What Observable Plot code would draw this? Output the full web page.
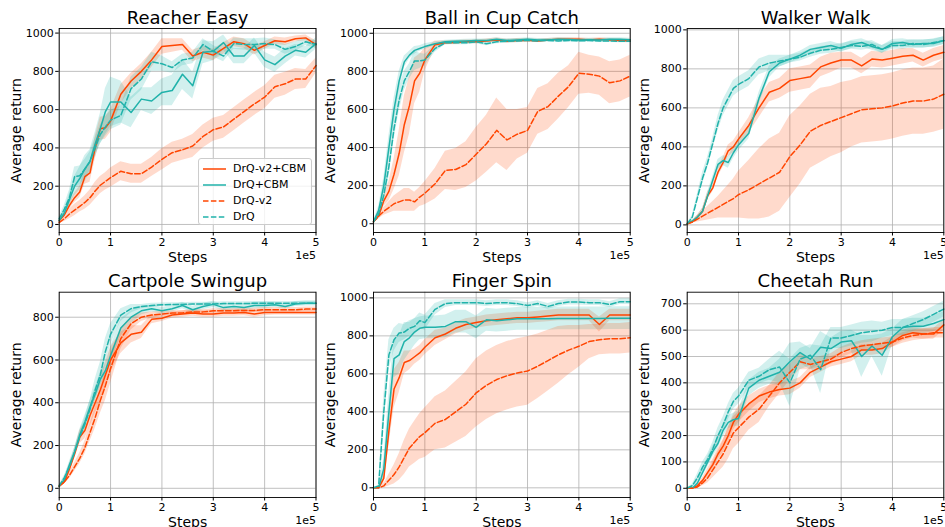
<!DOCTYPE html>
<html><head><meta charset="utf-8">
<script src="https://cdn.jsdelivr.net/npm/d3@7"></script>
<script src="https://cdn.jsdelivr.net/npm/@observablehq/plot@0.6"></script>
<style>
body{margin:0;background:#fff;font-family:"DejaVu Sans",sans-serif;}
#root{position:relative;width:945px;height:527px;overflow:hidden;background:#fff;}
.panel{position:absolute;}
#legend{position:absolute;left:198px;top:158px;width:114px;height:67px;background:rgba(255,255,255,0.8);border:1px solid #cccccc;border-radius:3px;box-sizing:border-box;font-family:"DejaVu Sans",sans-serif;font-size:11px;color:#000;}
.lg{position:absolute;left:0;height:16px;line-height:16px;width:112px;}
.lg svg{position:absolute;left:4px;top:0;}
.lg span{position:absolute;left:34px;top:0;white-space:nowrap;}
</style></head><body><div id="root"></div>
<script>
// ---- data ----
const stepsE5 = [0,0.1,0.2,0.3,0.4,0.5,0.6,0.7,0.8,0.9,1.0,1.2,1.4,1.6,1.8,2.0,2.2,2.4,2.6,2.8,3.0,3.2,3.4,3.6,3.8,4.0,4.2,4.4,4.6,4.8,5.0];
const seriesNames = ["DrQ-v2+CBM","DrQ+CBM","DrQ-v2","DrQ"];
const panelTitles = ["Reacher Easy","Ball in Cup Catch","Walker Walk","Cartpole Swingup","Finger Spin","Cheetah Run"];
const xTicksE5 = [0,1,2,3,4,5];
const xOffsetLabel = "1e5";
const xLabel = "Steps";
const yLabel = "Average return";
const yTicks1000 = [0,200,400,600,800,1000];
const yTicksCartpole = [0,200,400,600,800];
const yTicksCheetah = [0,100,200,300,400,500,600,700];

// Reacher Easy
const reacher_v2cbm = [20,50,100,140,170,250,270,400,500,505,540,680,750,800,860,930,935,940,880,900,885,920,955,945,910,935,960,955,970,975,940];
const reacher_cbm   = [20,60,130,200,240,290,330,420,500,590,640,640,585,655,645,690,700,785,725,900,905,950,880,880,935,860,835,880,910,900,945];
const reacher_v2    = [10,30,55,75,95,115,140,175,205,225,245,278,265,265,300,340,375,390,410,460,495,510,550,590,630,665,720,735,760,760,830];
const reacher_drq   = [30,80,140,250,255,290,330,400,470,510,545,570,710,760,850,840,820,860,870,940,905,880,945,940,940,945,940,915,930,955,940];
const reacher_v2cbm_sd = [5,10,20,25,30,40,50,60,60,60,60,50,40,40,40,40,35,30,30,30,30,30,25,25,25,20,20,20,15,15,20];
const reacher_cbm_sd   = [5,15,30,50,60,70,60,60,80,120,130,110,80,60,70,70,80,80,70,60,50,40,40,40,40,40,40,40,30,30,30];
const reacher_v2_sd    = [5,15,25,30,30,35,40,45,45,45,50,50,50,50,50,55,55,55,60,60,60,60,60,60,60,60,60,60,55,50,40];
const reacher_drq_sd   = [10,20,40,50,50,50,50,50,50,50,50,50,60,60,50,40,30,30,30,30,30,30,30,30,30,30,25,25,25,20,20];

// Ball in Cup Catch
const ball_v2cbm = [10,40,120,170,260,370,520,620,750,790,860,940,950,952,955,955,960,965,958,962,963,960,965,968,968,968,965,968,965,962,960];
const ball_cbm   = [10,70,200,400,600,750,850,885,910,920,930,945,955,958,960,962,962,968,962,965,968,965,965,968,967,965,966,965,968,968,966];
const ball_v2    = [10,40,65,85,105,115,125,125,115,140,160,210,280,285,310,365,420,490,440,470,490,590,615,670,720,790,785,775,740,750,775];
const ball_drq   = [10,50,150,300,500,650,750,800,855,855,860,920,950,950,950,955,945,955,958,960,962,960,962,960,962,960,962,960,960,958,958];
const ball_v2cbm_sd = [5,10,30,50,80,120,150,150,120,100,60,20,10,10,10,10,10,10,10,10,8,8,8,8,8,8,8,8,8,8,8];
const ball_cbm_sd   = [5,20,40,60,60,50,30,20,20,15,15,10,8,8,8,8,8,8,8,8,8,8,8,8,8,8,8,8,8,8,8];
const ball_v2_sd    = [5,15,20,30,40,50,60,60,50,50,60,80,100,110,120,140,150,170,160,130,120,120,120,120,110,110,100,100,110,110,110];
const ball_drq_sd   = [5,20,40,60,60,60,50,40,50,40,30,20,10,10,10,10,10,10,10,10,8,8,8,8,8,8,8,8,8,8,8];

// Walker Walk
const walker_v2cbm = [5,15,40,70,150,190,270,320,380,400,440,510,600,680,700,740,750,760,810,830,845,845,815,850,845,855,865,870,845,870,885];
const walker_cbm   = [5,20,40,70,150,230,310,330,320,370,410,470,650,785,830,850,870,900,910,920,905,925,935,915,900,930,935,925,930,930,945];
const walker_v2    = [5,15,30,45,60,75,90,105,120,135,155,180,210,240,270,350,410,480,510,530,550,570,590,595,600,610,625,635,635,645,670];
const walker_drq   = [5,40,140,240,320,420,520,600,650,700,720,750,810,830,840,850,860,880,895,900,910,920,915,925,900,920,920,930,925,935,945];
const walker_v2cbm_sd = [3,5,10,15,20,20,25,25,30,30,30,40,50,50,50,60,60,60,50,50,40,40,40,40,40,40,40,35,35,35,35];
const walker_cbm_sd   = [3,5,10,15,20,20,25,25,30,30,30,30,30,30,20,20,20,20,20,20,20,20,20,20,20,20,20,20,20,20,20];
const walker_v2_sd    = [3,5,15,25,35,45,55,70,85,100,120,150,180,200,200,210,200,190,190,180,180,170,170,170,170,170,170,170,170,170,180];
const walker_drq_sd   = [3,10,20,30,30,30,40,40,40,40,40,40,40,40,30,20,20,20,20,20,20,20,20,20,20,20,20,20,20,20,20];

// Cartpole Swingup
const cartpole_v2cbm = [10,30,90,160,240,270,340,400,460,530,600,680,720,730,790,795,810,815,820,815,815,820,820,822,815,822,822,822,822,822,822];
const cartpole_cbm   = [10,40,110,170,250,310,380,440,510,550,620,750,800,830,840,830,840,855,835,850,860,845,850,845,855,855,858,850,862,865,865];
const cartpole_v2    = [10,30,60,100,140,190,260,330,410,480,560,700,770,800,810,815,820,820,825,825,830,830,830,832,832,835,835,835,835,838,838];
const cartpole_drq   = [10,50,100,170,240,300,370,460,530,640,720,810,840,850,855,858,860,860,862,862,862,864,864,864,865,865,865,865,865,865,865];
const cartpole_v2cbm_sd = [5,10,20,20,30,40,50,50,60,60,60,50,40,30,20,15,15,15,15,15,15,15,15,15,15,15,12,12,12,12,12];
const cartpole_cbm_sd   = [5,10,15,20,25,30,30,30,30,30,40,40,30,20,15,15,15,15,15,15,15,15,15,15,15,15,12,12,12,12,12];
const cartpole_v2_sd    = [5,10,15,20,25,30,40,50,60,70,70,50,30,20,15,12,10,10,10,10,10,10,10,10,10,10,10,10,10,10,10];
const cartpole_drq_sd   = [5,10,15,20,25,30,40,50,60,60,50,30,20,10,10,8,8,8,8,8,8,8,8,8,8,8,8,8,8,8,8];

// Finger Spin
const finger_v2cbm = [0,0,50,300,520,580,660,670,690,710,740,790,810,840,860,870,880,885,890,895,895,900,905,910,910,910,910,860,910,910,910];
const finger_cbm   = [0,0,100,400,680,700,770,790,820,840,845,845,850,875,875,845,885,880,885,890,890,890,890,892,892,892,892,892,893,893,893];
const finger_v2    = [0,0,10,40,70,110,160,210,240,270,290,340,360,400,440,500,540,570,590,605,615,640,670,700,725,745,770,780,785,785,790];
const finger_drq   = [0,10,400,700,780,815,820,840,850,880,870,940,970,975,975,975,970,975,975,970,960,970,955,970,978,978,975,975,965,980,980];
const finger_v2cbm_sd = [2,2,30,80,100,80,60,50,40,40,40,40,30,30,30,30,30,30,30,30,30,30,30,30,30,30,30,40,30,30,30];
const finger_cbm_sd   = [2,2,50,100,100,100,100,80,70,60,60,60,60,60,60,60,60,60,60,60,60,60,60,60,60,60,60,60,60,60,60];
const finger_v2_sd    = [2,2,10,30,50,70,90,100,110,120,130,140,150,160,170,180,180,180,180,180,180,170,160,150,130,110,90,80,80,80,80];
const finger_drq_sd   = [2,2,80,80,60,50,40,40,40,40,40,30,20,15,15,15,15,15,15,15,15,15,15,15,15,15,15,15,15,15,15];

// Cheetah Run
const cheetah_v2cbm = [0,0,10,30,60,90,130,160,200,250,280,320,350,365,375,380,400,440,460,480,490,500,525,525,530,555,580,590,585,585,620];
const cheetah_cbm   = [0,0,20,60,100,140,170,220,250,260,265,380,410,425,440,480,515,490,535,530,555,560,500,540,505,575,610,615,615,625,640];
const cheetah_v2    = [0,0,5,20,40,70,100,130,170,210,230,270,300,350,400,440,480,470,480,490,515,530,540,545,550,555,570,580,585,590,590];
const cheetah_drq   = [0,10,40,80,110,150,200,240,290,330,350,410,425,450,460,400,490,505,450,570,570,580,590,595,600,610,610,625,640,660,680];
const cheetah_v2cbm_sd = [2,2,5,10,15,20,20,25,30,30,30,30,25,25,25,25,20,20,20,20,20,20,20,20,20,20,20,20,20,20,20];
const cheetah_cbm_sd   = [2,2,10,15,20,20,20,25,25,25,30,30,30,30,50,70,40,40,60,40,40,40,80,40,80,30,30,30,30,30,30];
const cheetah_v2_sd    = [2,2,5,10,20,30,40,50,60,60,60,50,50,40,40,30,30,20,20,20,20,20,20,20,20,20,20,20,20,20,20];
const cheetah_drq_sd   = [2,5,15,20,20,25,30,30,30,30,30,30,30,40,60,90,40,40,90,40,40,40,40,40,30,30,30,30,30,30,30];

// ---- styling / layout ----
const seriesColors = ["#ff4500","#20b2aa","#ff4500","#20b2aa"];
const seriesDashed = [false,false,true,true];
const dash = "5.5,2.4";

const panels = [
  {means:[reacher_v2cbm,reacher_cbm,reacher_v2,reacher_drq], sds:[reacher_v2cbm_sd,reacher_cbm_sd,reacher_v2_sd,reacher_drq_sd], yDomain:[-42,1024], yTicks:yTicks1000},
  {means:[ball_v2cbm,ball_cbm,ball_v2,ball_drq], sds:[ball_v2cbm_sd,ball_cbm_sd,ball_v2_sd,ball_drq_sd], yDomain:[-46,1025], yTicks:yTicks1000},
  {means:[walker_v2cbm,walker_cbm,walker_v2,walker_drq], sds:[walker_v2cbm_sd,walker_cbm_sd,walker_v2_sd,walker_drq_sd], yDomain:[-39,1007], yTicks:yTicks1000},
  {means:[cartpole_v2cbm,cartpole_cbm,cartpole_v2,cartpole_drq], sds:[cartpole_v2cbm_sd,cartpole_cbm_sd,cartpole_v2_sd,cartpole_drq_sd], yDomain:[-43,917], yTicks:yTicksCartpole},
  {means:[finger_v2cbm,finger_cbm,finger_v2,finger_drq], sds:[finger_v2cbm_sd,finger_cbm_sd,finger_v2_sd,finger_drq_sd], yDomain:[-51,1030], yTicks:yTicks1000},
  {means:[cheetah_v2cbm,cheetah_cbm,cheetah_v2,cheetah_drq], sds:[cheetah_v2cbm_sd,cheetah_cbm_sd,cheetah_v2_sd,cheetah_drq_sd], yDomain:[-35,744], yTicks:yTicksCheetah}
];
const cols = [
  {left:0, width:318, ml:58.7, mr:2.5},
  {left:318, width:315, ml:55, mr:3.3},
  {left:633, width:312, ml:53.7, mr:1.7}
];
const rowsL = [
  {top:0, height:263, mt:28, mb:31, titleDy:-10},
  {top:263, height:264, mt:28.7, mb:30, titleDy:-10.5}
];

function buildRows(p){
  const out = [];
  p.means.forEach((arr, si) => arr.forEach((v, i) => {
    const s = p.sds[si][i];
    out.push({step: stepsE5[i]*1e5, value: v, lo: v - s, hi: v + s, series: seriesNames[si], dashed: seriesDashed[si]});
  }));
  return out;
}

const root = document.getElementById("root");
const xTicks = xTicksE5.map(d => d*1e5);
panels.forEach((p, k) => {
  const c = cols[k % 3], r = rowsL[Math.floor(k / 3)];
  const data = buildRows(p);
  const chart = Plot.plot({
    width: c.width, height: r.height,
    marginLeft: c.ml, marginRight: c.mr, marginTop: r.mt, marginBottom: r.mb,
    style: {fontFamily: "DejaVu Sans", fontSize: "11px", background: "transparent", overflow: "visible", color: "#000"},
    x: {domain: [0, 5e5], label: null},
    y: {domain: p.yDomain, label: null},
    color: {domain: seriesNames, range: seriesColors},
    marks: [
      Plot.gridX(xTicks, {stroke: "#b0b0b0", strokeOpacity: 1, strokeWidth: 0.8}),
      Plot.gridY(p.yTicks, {stroke: "#b0b0b0", strokeOpacity: 1, strokeWidth: 0.8}),
      Plot.areaY(data, {x: "step", y1: "lo", y2: "hi", z: "series", fill: "series", fillOpacity: 0.2}),
      Plot.line(data.filter(d => !d.dashed), {x: "step", y: "value", z: "series", stroke: "series", strokeWidth: 1.5}),
      Plot.line(data.filter(d => d.dashed), {x: "step", y: "value", z: "series", stroke: "series", strokeWidth: 1.5, strokeDasharray: dash}),
      Plot.frame({stroke: "#000", strokeWidth: 0.9}),
      Plot.axisX(xTicks, {tickFormat: d => String(d/1e5), tickSize: 3.5, tickPadding: 2.5, label: null, fontSize: 11}),
      Plot.axisY(p.yTicks, {tickFormat: d => String(d), tickSize: 3.5, tickPadding: 2, label: null, fontSize: 11}),
      Plot.text([panelTitles[k]], {text: d => d, frameAnchor: "top", lineAnchor: "middle", textAnchor: "middle", dy: r.titleDy, fontSize: 18}),
      Plot.text([yLabel], {text: d => d, frameAnchor: "left", lineAnchor: "middle", textAnchor: "middle", dx: -43, rotate: -90, fontSize: 14}),
      Plot.text([xLabel], {text: d => d, frameAnchor: "bottom", lineAnchor: "middle", textAnchor: "middle", dy: 25, fontSize: 14}),
      Plot.text([xOffsetLabel], {text: d => d, frameAnchor: "bottom-right", lineAnchor: "middle", textAnchor: "end", dy: 23, fontSize: 11})
    ]
  });
  chart.classList.add("panel");
  chart.style.left = c.left + "px";
  chart.style.top = r.top + "px";
  root.appendChild(chart);
});

// legend (in first panel)
const lg = document.createElement("div");
lg.id = "legend";
seriesNames.forEach((name, i) => {
  const row = document.createElement("div");
  row.className = "lg";
  row.style.top = (2 + 16*i) + "px";
  row.innerHTML = `<svg width="24" height="16"><line x1="0" x2="23" y1="8" y2="8" stroke="${seriesColors[i]}" stroke-width="1.5" ${seriesDashed[i] ? `stroke-dasharray="${dash}"` : ""}/></svg><span>${name}</span>`;
  lg.appendChild(row);
});
root.appendChild(lg);
</script></body></html>
